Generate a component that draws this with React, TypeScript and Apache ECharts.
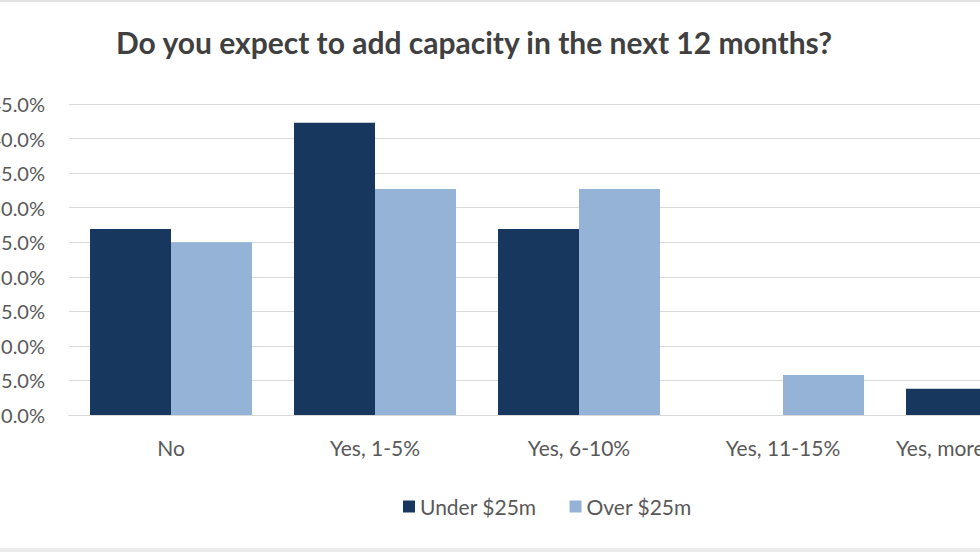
import React, { useEffect, useRef } from "react";
import * as echarts from "echarts";

const categories = ["No", "Yes, 1-5%", "Yes, 6-10%", "Yes, 11-15%", "Yes, more than 15%"];
const under25 = [26.9, 42.3, 26.9, 0, 3.8];
const over25 = [25.0, 32.7, 32.7, 5.8, 3.8];
const seriesNames = ["Under $25m", "Over $25m"];
const titleText = "Do you expect to add capacity in the next 12 months?";

const OFFSET = 60;
const FONT = "Lato, 'Open Sans', sans-serif";

export default function App() {
  const ref = useRef<HTMLDivElement>(null);
  useEffect(() => {
    if (!ref.current) return;
    const chart = echarts.init(ref.current, undefined, { renderer: "svg" });
    chart.setOption({
      animation: false,
      backgroundColor: "#ffffff",
      title: {
        text: titleText,
        left: 116 + OFFSET,
        top: 27,
        padding: 0,
        textStyle: { fontFamily: FONT, fontSize: 30, fontWeight: "bold", color: "#404040" },
      },
      legend: {
        left: 403 + OFFSET,
        top: 496,
        padding: 0,
        itemWidth: 12,
        itemHeight: 12,
        itemGap: 33,
        icon: "rect",
        data: seriesNames,
        textStyle: { fontFamily: FONT, fontSize: 21, color: "#595959" },
      },
      grid: { left: 69 + OFFSET, right: 51, top: 104, bottom: 137, containLabel: false },
      xAxis: {
        type: "category",
        data: categories,
        axisLine: { lineStyle: { color: "#d9d9d9", width: 1 } },
        axisTick: { show: false },
        axisLabel: { fontFamily: FONT, fontSize: 21, color: "#595959", margin: 22, interval: 0, hideOverlap: false },
      },
      yAxis: {
        type: "value",
        min: 0,
        max: 45,
        interval: 5,
        axisLine: { show: false },
        axisTick: { show: false },
        splitLine: { lineStyle: { color: "#d9d9d9", width: 1 } },
        axisLabel: {
          fontFamily: FONT,
          fontSize: 20,
          color: "#595959",
          margin: 24,
          formatter: (v: number) => v.toFixed(1) + "%",
        },
      },
      series: [
        {
          name: seriesNames[0],
          type: "bar",
          data: under25,
          barGap: "0%",
          barCategoryGap: "20.6%",
          itemStyle: { color: "#17375e" },
        },
        {
          name: seriesNames[1],
          type: "bar",
          data: over25,
          barGap: "0%",
          barCategoryGap: "20.6%",
          itemStyle: { color: "#95b3d7" },
        },
      ],
      graphic: [
        { type: "rect", shape: { x: 0, y: 0, width: 1200, height: 2 }, style: { fill: "#e2e2e2" } },
        { type: "rect", shape: { x: 0, y: 548, width: 1200, height: 4 }, style: { fill: "#ebebeb" } },
      ],
    });
    return () => chart.dispose();
  }, []);
  return (
    <div style={{ position: "fixed", left: 0, top: 0, width: 980, height: 552, overflow: "hidden", background: "#fff" }}>
      <div ref={ref} style={{ position: "absolute", left: -OFFSET, top: 0, width: 1200, height: 552 }} />
    </div>
  );
}
